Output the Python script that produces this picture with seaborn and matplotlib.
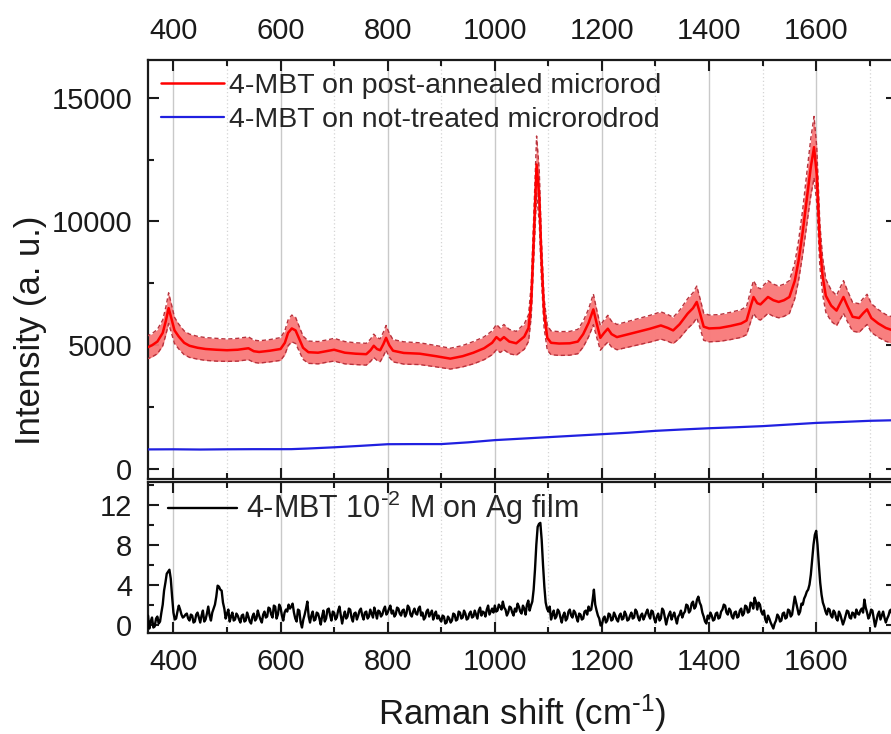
import numpy as np
import pandas as pd
import matplotlib
matplotlib.use("Agg")
import matplotlib.pyplot as plt
import seaborn as sns
from matplotlib.ticker import MultipleLocator

# ---------------- data ----------------
# SERS of 4-MBT on the post-annealed microrod: mean spectrum and spread
red_shift = [350, 360, 370, 380, 386, 391, 396, 402, 410, 420, 430, 445, 460, 480, 500,
             520, 540, 550, 560, 580, 600, 608, 614, 621, 628, 634, 642, 652, 670, 690,
             700, 720, 740, 760, 768, 774, 780, 786, 792, 797, 803, 810, 830, 860, 890,
             917, 940, 960, 980, 995, 1003, 1010, 1017, 1027, 1040, 1055, 1063, 1068, 1073, 1078,
             1083, 1087, 1092, 1098, 1105, 1120, 1140, 1155, 1165, 1175, 1184, 1190, 1197, 1204, 1211,
             1218, 1228, 1250, 1270, 1290, 1310, 1323, 1333, 1345, 1360, 1370, 1377, 1383, 1390, 1400,
             1420, 1440, 1460, 1470, 1478, 1483, 1490, 1496, 1503, 1510, 1520, 1530, 1540, 1550, 1560,
             1567, 1575, 1583, 1590, 1596, 1601, 1607, 1612, 1618, 1628, 1638, 1645, 1651, 1658, 1668,
             1680, 1688, 1695, 1703, 1716, 1730, 1750]
red_mean = [4900, 5000, 5150, 5500, 6000, 6500, 6100, 5600, 5350, 5100, 4980, 4900, 4850, 4820, 4800,
            4820, 4880, 4760, 4730, 4780, 4850, 5100, 5500, 5680, 5600, 5300, 4900, 4720, 4700, 4780,
            4820, 4700, 4660, 4640, 4800, 4980, 4850, 4800, 5050, 5300, 5000, 4780, 4690, 4660, 4560,
            4460, 4560, 4700, 4880, 5100, 5330, 5200, 5330, 5150, 5080, 5350, 5700, 6800, 9500, 12300,
            11000, 8500, 6300, 5300, 5100, 5070, 5080, 5150, 5450, 5900, 6450, 5900, 5300, 5500, 5670,
            5450, 5330, 5450, 5560, 5670, 5800, 5700, 5600, 5850, 6280, 6500, 6750, 6300, 5750, 5680,
            5700, 5780, 5880, 6000, 6600, 6950, 6700, 6650, 6800, 6950, 6820, 6750, 6820, 6950, 7600,
            8400, 9600, 11000, 12200, 13000, 11900, 9000, 7800, 7000, 6600, 6400, 6700, 6950, 6600, 6150,
            6100, 6300, 6450, 6100, 5880, 5700, 5550]
red_sd = [460, 470, 490, 520, 560, 620, 580, 530, 500, 480, 470, 460, 460, 460, 450,
          460, 460, 450, 450, 450, 460, 480, 520, 540, 530, 500, 470, 450, 450, 450,
          460, 450, 440, 440, 450, 470, 460, 460, 480, 500, 480, 450, 450, 440, 430,
          420, 430, 450, 460, 480, 510, 490, 510, 490, 480, 510, 540, 650, 900, 1150,
          1050, 800, 600, 500, 480, 480, 480, 490, 520, 560, 620, 560, 500, 520, 540,
          520, 510, 520, 530, 540, 550, 540, 530, 560, 600, 620, 640, 600, 550, 540,
          540, 550, 560, 570, 630, 660, 640, 630, 650, 660, 650, 640, 650, 660, 720,
          800, 910, 1050, 1160, 1240, 1130, 860, 740, 670, 630, 610, 640, 660, 630, 580,
          580, 600, 610, 580, 560, 540, 530]

# 4-MBT on the not-treated microrod
blue_shift = [350, 400, 450, 500, 550, 600, 620, 650, 700, 750, 800, 850, 900, 950, 1000,
              1050, 1100, 1150, 1200, 1250, 1300, 1350, 1400, 1450, 1500, 1550, 1600, 1650, 1700, 1750]
blue_int = [795, 800, 790, 800, 805, 805, 806, 830, 880, 940, 1005, 1010, 1010, 1080, 1170,
            1230, 1290, 1350, 1410, 1470, 1545, 1600, 1650, 1690, 1735, 1800, 1865, 1905, 1950, 1975]

# Normal Raman of 4-MBT 10^-2 M on Ag film, 2.5 cm^-1 steps from 350 to 1750
ag_start, ag_step = 350, 2.5
ag_int = [
    0.2, 0.9, -0.4, 0.3, 0.7, -0.3, -0.2, 0.6, 0.8, 0.1, 0.3, 1.2, 2.0, 3.4, 4.2, 5.1, 5.3, 5.5, 4.6, 2.8,
    1.2, 0.5, 0.6, 1.3, 1.9, 1.5, 1.0, 0.7, 0.8, 1.0, 1.1, 0.6, 0.4, 1.0, 0.9, 0.2, 0.3, 1.0, 1.2, 0.7,
    0.2, 0.9, 1.4, 0.3, 0.5, 1.1, 1.8, 0.9, 0.4, 1.2, 1.6, 2.0, 2.8, 3.9, 3.8, 3.5, 3.4, 2.2, 1.6, 0.6,
    1.1, 1.5, 0.3, 0.8, 1.2, 0.4, 0.5, 1.1, 0.9, 0.5, 0.2, 0.9, 1.0, 0.3, 0.4, 1.2, 0.8, 0.3, 0.1, 0.8,
    1.1, 0.4, 0.6, 1.4, 0.9, 0.5, 0.2, 1.0, 1.3, 0.7, 0.8, 1.7, 1.6, 1.0, 0.7, 1.9, 1.8, 0.6, 1.0, 2.0,
    1.7, 0.9, 0.4, 1.2, 1.5, 1.3, 2.0, 1.6, 1.8, 2.1, 1.2, 0.6, 0.3, 1.5, 1.4, 0.2, -0.3, 0.5, 1.0, 1.6,
    2.3, 0.8, 0.2, 0.9, 1.3, 0.4, 0.5, 1.2, 1.1, 0.6, 0.0, 0.8, 1.4, 0.3, 0.6, 1.5, 1.6, 0.9, 0.4, 1.3,
    1.2, 0.5, 0.7, 1.4, 1.8, 0.9, 0.1, 0.8, 1.3, 0.6, 0.8, 1.6, 1.5, 0.7, 0.3, 1.1, 1.2, 0.5, 0.9, 1.4,
    1.6, 0.9, 0.5, 1.2, 1.3, 0.6, 0.8, 1.5, 1.1, 0.7, 1.7, 1.2, 0.6, 1.4, 1.3, 0.8, 1.0, 1.5, 1.8, 1.0,
    1.2, 1.6, 1.9, 1.1, 1.4, 0.8, 1.0, 1.7, 1.6, 1.1, 0.9, 1.4, 1.5, 0.8, 1.1, 1.9, 1.7, 1.0, 0.8, 1.3,
    1.6, 1.1, 1.0, 1.6, 1.8, 0.9, 1.2, 0.5, 0.7, 1.3, 1.5, 0.8, 1.1, 1.4, 0.5, 1.0, 1.3, 0.6, 0.9, 0.5,
    0.3, 0.9, 0.8, 0.1, 0.2, 0.8, 0.6, 0.2, 0.4, 1.1, 1.0, 0.4, 0.5, 1.3, 1.2, 0.6, 0.7, 1.4, 1.1, 0.5,
    0.6, 1.1, 1.3, 0.7, 0.8, 1.4, 1.0, 0.6, 1.4, 1.7, 0.9, 1.3, 1.2, 0.8, 1.5, 1.9, 1.0, 1.3, 1.6, 1.2,
    1.9, 1.3, 1.4, 2.0, 1.8, 1.5, 2.3, 1.7, 1.5, 0.9, 1.2, 1.8, 1.7, 1.2, 0.9, 1.6, 1.3, 2.1, 1.8, 1.3,
    1.1, 1.9, 1.6, 1.0, 2.0, 2.4, 1.4, 1.9, 2.3, 3.5, 5.5, 8.0, 9.8, 10.1, 10.2, 8.5, 6.0, 3.8, 2.2, 1.6,
    1.3, 1.8, 0.5, 1.0, 1.4, 0.6, 0.8, 1.5, 1.3, 0.7, 0.2, 0.9, 1.2, 0.4, 0.6, 1.3, 1.5, 0.9, 0.7, 1.4,
    1.2, 0.7, 0.3, 1.1, 1.0, 0.5, 0.6, 1.3, 1.4, 1.0, 1.8, 1.4, 1.5, 2.4, 3.5, 2.0, 1.4, 0.9, 0.6, -0.1,
    0.0, 0.6, 0.8, 0.2, 0.4, 1.1, 1.0, 0.4, 0.5, 1.2, 0.9, 0.5, 0.3, 0.9, 1.1, 0.5, 0.6, 1.3, 1.0, 0.4,
    0.5, 0.9, 1.2, 0.6, 0.7, 1.5, 1.3, 0.7, 0.4, 0.9, 1.1, 0.5, 0.8, 1.2, 1.5, 0.9, 0.6, 1.4, 1.3, 0.6,
    0.2, 0.8, 1.1, 0.4, 0.6, 1.6, 1.4, 0.7, 0.0, 0.6, 1.0, 1.3, 0.5, 0.9, 1.2, 0.6, 0.1, 0.8, 1.0, 1.4,
    0.7, 1.1, 1.3, 2.0, 1.9, 1.2, 1.4, 2.1, 2.3, 1.6, 1.8, 2.5, 2.8, 2.2, 1.9, 1.2, 0.8, 0.3, 0.1, 0.9,
    0.6, 1.2, 0.9, 0.4, 0.5, 1.1, 1.2, 0.6, 0.7, 1.3, 1.5, 2.0, 1.9, 1.2, 1.0, 1.6, 1.4, 0.8, 0.6, 1.2,
    1.3, 0.7, 0.8, 1.4, 1.6, 0.9, 1.1, 1.9, 1.8, 1.2, 1.3, 2.2, 2.1, 1.6, 2.7, 2.3, 1.5, 2.2, 2.0, 1.3,
    1.0, 1.4, 0.5, 0.2, 0.9, 0.6, 0.2, -0.1, -0.4, 0.1, 0.4, 1.0, 0.8, 0.3, 0.4, 1.1, 1.2, 0.6, 0.7, 1.5,
    1.4, 0.8, 1.0, 1.9, 2.8, 2.2, 1.6, 1.0, 1.3, 2.1, 2.0, 2.6, 2.9, 3.3, 3.5, 4.0, 5.0, 6.5, 8.0, 9.0,
    9.4, 8.0, 6.0, 4.2, 3.0, 2.2, 1.8, 1.3, 1.0, 1.6, 1.5, 0.9, 0.7, 1.4, 1.2, 0.6, 0.4, 1.3, 1.0, 0.5,
    0.0, 0.4, 0.9, 1.4, 1.3, 0.7, 0.6, 1.2, 1.1, 0.7, 1.5, 1.1, 1.0, 1.4, 1.6, 1.2, 2.5, 1.7, 1.2, 0.6,
    0.9, 1.5, 1.4, 0.6, -0.2, 0.4, 1.0, 1.3, 0.5, 0.9, 1.3, 0.7, 0.2, 0.6, 0.9, 1.4, 1.5, 0.8, 0.3, 0.7,
    1.0,
]
ag_shift = [ag_start + ag_step * i for i in range(len(ag_int))]

label_red = "4-MBT on post-annealed microrod"
label_blue = "4-MBT on not-treated microrodrod"
label_ag = r"4-MBT 10$^{\text{-}2}$ M on Ag film"

red_df = pd.DataFrame({"shift": red_shift, "mean": red_mean, "sd": red_sd})
blue_df = pd.DataFrame({"shift": blue_shift, "intensity": blue_int})
ag_df = pd.DataFrame({"shift": ag_shift, "intensity": ag_int})

# ---------------- style ----------------
sns.set_theme(style="ticks")
plt.rcParams["font.family"] = ["Liberation Sans", "DejaVu Sans"]
plt.rcParams["mathtext.default"] = "regular"
plt.rcParams["axes.linewidth"] = 1.6

fig = plt.figure(figsize=(8.91, 7.34), dpi=100)
ax_top = fig.add_axes([0.1658, 0.3474, 0.8404, 0.5702])
ax_bot = fig.add_axes([0.1658, 0.1376, 0.8404, 0.2057])

XMIN, XMAX = 352, 1750
TICK_FS = 21

for ax in (ax_top, ax_bot):
    ax.set_xlim(XMIN, XMAX)
    ax.xaxis.set_major_locator(MultipleLocator(200))
    ax.xaxis.set_minor_locator(MultipleLocator(100))
    ax.grid(which="major", axis="x", color="#c9c9c9", lw=1.0, ls="-")
    ax.grid(which="minor", axis="x", color="#d4d4d4", lw=0.9, ls=(0, (1, 2)))
    ax.grid(which="both", axis="y", visible=False)
    ax.set_axisbelow(True)
    ax.tick_params(which="both", direction="in", top=True, right=True, bottom=True, left=True,
                   width=1.5, labelsize=TICK_FS, pad=11, colors="#1a1a1a")
    ax.tick_params(which="major", length=8)
    ax.tick_params(which="minor", length=4.5)
    for sp in ax.spines.values():
        sp.set_color("#1a1a1a")

# ---------------- top panel ----------------
ax_top.fill_between(red_df["shift"], red_df["mean"] - red_df["sd"], red_df["mean"] + red_df["sd"],
                    color="#f87878", alpha=0.95, lw=0, zorder=2)
for sign in (-1, 1):
    ax_top.plot(red_df["shift"], red_df["mean"] + sign * red_df["sd"], color="#b8323c",
                lw=1.0, ls=(0, (3, 2)), zorder=3)
sns.lineplot(data=red_df, x="shift", y="mean", ax=ax_top, color="#ff0000", lw=1.8,
             label=label_red, zorder=4)
sns.lineplot(data=blue_df, x="shift", y="intensity", ax=ax_top, color="#2020e0", lw=1.6,
             label=label_blue, zorder=4)

ax_top.set_ylim(-400, 16500)
ax_top.yaxis.set_major_locator(MultipleLocator(5000))
ax_top.yaxis.set_minor_locator(MultipleLocator(2500))
ax_top.tick_params(which="both", labeltop=True, labelbottom=False)
ax_top.set_xlabel("")
ax_top.set_ylabel("")
ax_top.legend(loc="upper left", frameon=False, fontsize=20.5, handlelength=2.2,
              handletextpad=0.2, labelspacing=0.26, borderaxespad=0.15,
              bbox_to_anchor=(-0.003, 1.0065))

# ---------------- bottom panel ----------------
sns.lineplot(data=ag_df, x="shift", y="intensity", ax=ax_bot, color="#000000", lw=1.7,
             label=label_ag, zorder=4)
ax_bot.set_ylim(-0.85, 14.3)
ax_bot.yaxis.set_major_locator(MultipleLocator(4))
ax_bot.yaxis.set_minor_locator(MultipleLocator(2))
ax_bot.set_xlabel("")
ax_bot.set_ylabel("")
ax_bot.legend(loc="upper left", frameon=False, fontsize=22, handlelength=2.26,
              handletextpad=0.3, borderaxespad=0.0, bbox_to_anchor=(0.0107, 1.035))

fig.text(0.586, 0.013, r"Raman shift (cm$^{\text{-}1}$)", ha="center", va="baseline",
         fontsize=25, color="#1a1a1a")
fig.text(0.034, 0.55, "Intensity (a. u.)", rotation=90, ha="center", va="center",
         fontsize=25, color="#1a1a1a")

fig.savefig("out.png", dpi=100)
